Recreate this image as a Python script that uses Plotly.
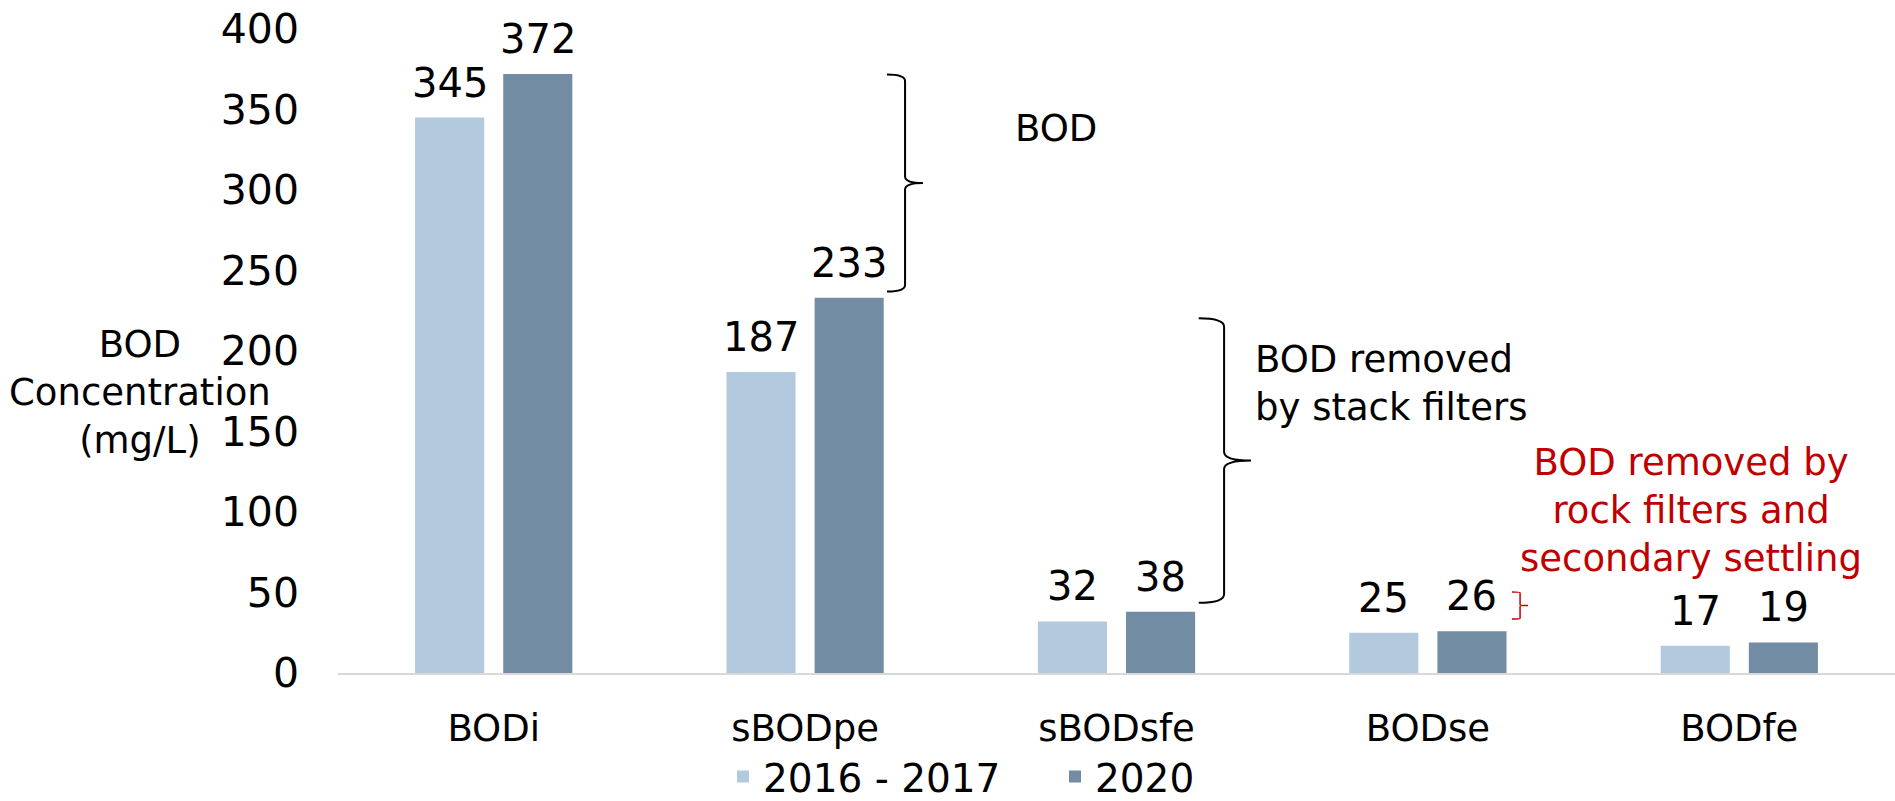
import plotly.graph_objects as go

categories = ["BODi", "sBODpe", "sBODsfe", "BODse", "BODfe"]
series_names = ["2016 - 2017", "2020"]
values_2016_2017 = [345, 187, 32, 25, 17]
values_2020 = [372, 233, 38, 26, 19]
y_ticks = [0, 50, 100, 150, 200, 250, 300, 350, 400]

FONT = "DejaVu Sans"
light = "#B3C9DD"
dark = "#718CA3"

fig = go.Figure()
series = [(series_names[0], values_2016_2017, light, -44, "legend"),
          (series_names[1], values_2020, dark, 44, "legend2")]
for name, vals, col, _, leg in series:
    fig.add_trace(go.Bar(
        x=categories, y=vals, name=name, marker=dict(color=col, line=dict(width=0)),
        cliponaxis=False, legend=leg,
    ))

# data labels, anchored to each bar's value
for name, vals, col, shift, _ in series:
    for cat, v in zip(categories, vals):
        fig.add_annotation(x=cat, y=v, xref="x", yref="y", text=str(v),
                           showarrow=False, yanchor="bottom", xshift=shift, yshift=10,
                           font=dict(family=FONT, size=40, color="black"))

leg_common = dict(orientation="h", xanchor="left", y=-0.161, yanchor="middle",
                  font=dict(family=FONT, size=39), bgcolor="rgba(0,0,0,0)")
fig.update_layout(
    width=1895, height=801,
    margin=dict(l=338, r=0, t=29, b=128, autoexpand=False),
    paper_bgcolor="white", plot_bgcolor="white",
    barmode="group", bargap=0.434, bargroupgap=0.216,
    font=dict(family=FONT, color="black"),
    showlegend=True,
    legend=dict(x=0.2473, **leg_common),
    legend2=dict(x=0.4605, **leg_common),
)
fig.update_xaxes(showline=True, linecolor="#D9D9D9", linewidth=2, showgrid=False,
                 ticks="", ticklabelstandoff=22,
                 tickfont=dict(family=FONT, size=37))
fig.update_yaxes(range=[0, 400], tickvals=y_ticks, showgrid=False, zeroline=False,
                 showline=False, ticks="", ticklabelstandoff=38,
                 tickfont=dict(family=FONT, size=41))

def brace(x0, x1, xt, ytop, ybot, color, w=2):
    ym = (ytop + ybot) / 2
    c = (ytop - ybot) * 0.03
    path = (f"M {x0} {ytop} Q {x1} {ytop} {x1} {ytop - c} "
            f"L {x1} {ym + c} Q {x1} {ym} {xt} {ym} "
            f"Q {x1} {ym} {x1} {ym - c} "
            f"L {x1} {ybot + c} Q {x1} {ybot} {x0} {ybot}")
    fig.add_shape(type="path", path=path, xref="paper", yref="y",
                  line=dict(color=color, width=w))

brace(0.3526, 0.3642, 0.3757, 371.8, 237.0, "black")
brace(0.5528, 0.5691, 0.5864, 220.4, 43.6, "black")
brace(0.7540, 0.7592, 0.7643, 50.3, 33.5, "#C00000", 1.5)

fig.add_annotation(x=0.4611, y=338, xref="paper", yref="y", text="BOD", xanchor="center",
                   showarrow=False, font=dict(family=FONT, size=37))
fig.add_annotation(x=0.5877, y=180, xref="paper", yref="y", xanchor="left",
                   text="BOD removed<br>by stack filters", align="left",
                   showarrow=False, font=dict(family=FONT, size=37))
fig.add_annotation(x=0.8690, y=101, xref="paper", yref="y", xanchor="center",
                   text="BOD removed by<br>rock filters and<br>secondary settling", align="center",
                   showarrow=False, font=dict(family=FONT, size=37, color="#C00000"))
fig.add_annotation(x=-0.1272, y=174.4, xref="paper", yref="y", xanchor="center",
                   text="BOD<br>Concentration<br>(mg/L)", align="center",
                   showarrow=False, font=dict(family=FONT, size=37))

fig.write_html("out.html", config={"displayModeBar": False},
               post_script="document.body.style.margin='0';document.body.style.overflow='hidden';")
